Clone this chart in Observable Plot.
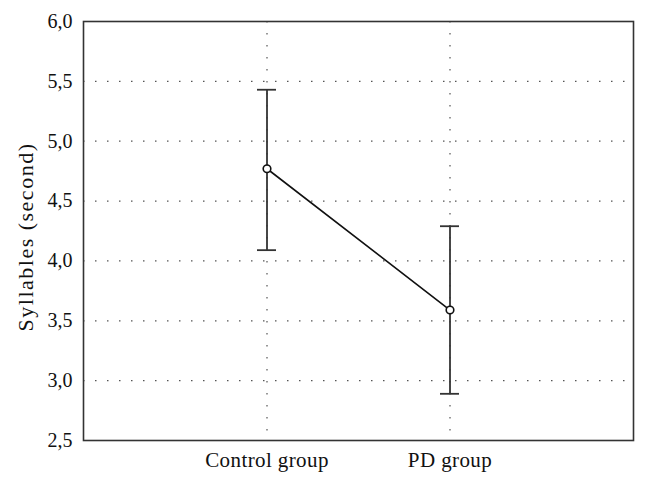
<!DOCTYPE html>
<html>
<head>
<meta charset="utf-8">
<script src="https://cdn.jsdelivr.net/npm/d3@7"></script>
<script src="https://cdn.jsdelivr.net/npm/@observablehq/plot@0.6"></script>
<style>
  html, body { margin: 0; padding: 0; background: #fff; }
</style>
</head>
<body>
<div id="chart"></div>
<script>
const groups = ["Control group", "PD group"];
const means = [4.77, 3.59];
const upper = [5.43, 4.29];
const lower = [4.09, 2.89];
const yTicks = [2.5, 3.0, 3.5, 4.0, 4.5, 5.0, 5.5, 6.0];
const yLabel = "Syllables (second)";

const data = groups.map((g, i) => ({group: g, mean: means[i], hi: upper[i], lo: lower[i]}));
const fmt = d => d.toFixed(1).replace(".", ",");

const chart = Plot.plot({
  width: 648,
  height: 484,
  marginLeft: 83,
  marginRight: 15,
  marginTop: 21,
  marginBottom: 44,
  style: {fontFamily: "Liberation Serif", fontSize: "20px", color: "#111", background: "#fff"},
  x: {type: "band", domain: groups, paddingInner: 0.8964, paddingOuter: 0.9482},
  y: {domain: [2.5, 6.0]},
  marks: [
    Plot.gridY(yTicks.filter(t => t > 2.5 && t < 6), {stroke: "#555", strokeOpacity: 1, strokeDasharray: "1.5,10.5", strokeWidth: 1.2}),
    Plot.gridX(groups, {stroke: "#555", strokeOpacity: 1, strokeDasharray: "1.5,10.5", strokeWidth: 1.2}),
    Plot.axisY({ticks: yTicks, tickFormat: fmt, tickSize: 0, tickPadding: 11, label: null, fontSize: 20}),
    Plot.axisX({tickSize: 0, tickPadding: 12, label: null, fontSize: 21}),
    Plot.text([yLabel], {frameAnchor: "left", textAnchor: "middle", rotate: -90, dx: -58, dy: 6, fontSize: 22, fill: "#111"}),
    Plot.frame({stroke: "#333", strokeWidth: 1.6}),
    Plot.ruleX(data, {x: "group", y1: "lo", y2: "hi", stroke: "#333", strokeWidth: 1.8}),
    Plot.tickY(data, {x: "group", y: "hi", stroke: "#333", strokeWidth: 1.8}),
    Plot.tickY(data, {x: "group", y: "lo", stroke: "#333", strokeWidth: 1.8}),
    Plot.line(data, {x: "group", y: "mean", stroke: "#111", strokeWidth: 1.6}),
    Plot.dot(data, {x: "group", y: "mean", r: 3.8, fill: "#fff", stroke: "#111", strokeWidth: 1.6})
  ]
});
d3.select(chart).selectAll("text").each(function() {
  const t = this.textContent;
  if (t === yLabel) this.style.letterSpacing = "1.5px";
  else if (groups.includes(t)) this.style.letterSpacing = "0.4px";
});
document.getElementById("chart").appendChild(chart);
</script>
</body>
</html>
